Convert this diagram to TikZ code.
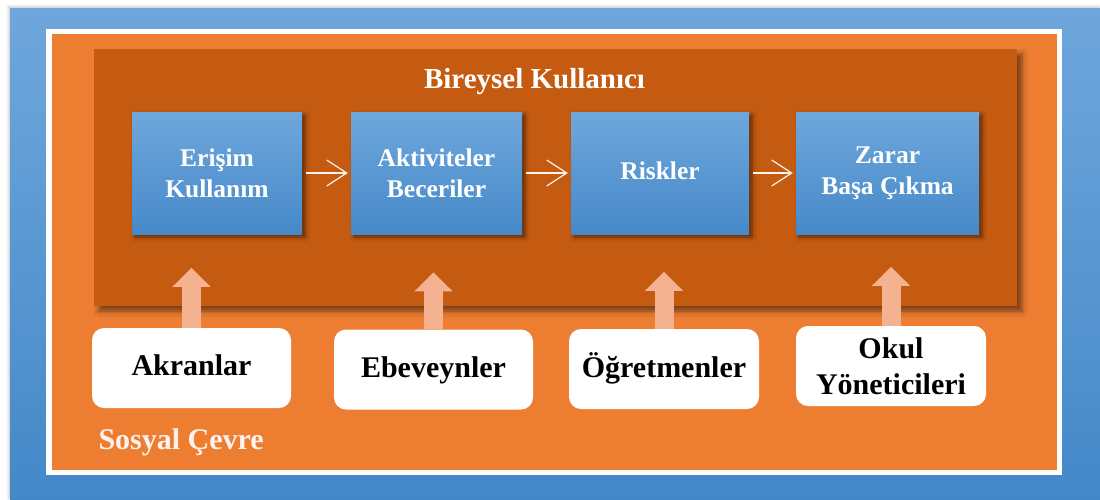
\documentclass[tikz,border=0pt]{standalone}
\usepackage{fontspec}
\setmainfont{Liberation Serif}
\usetikzlibrary{arrows.meta,shadows.blur}
\definecolor{zeminust}{HTML}{6FA7DC}
\definecolor{zeminalt}{HTML}{4488C8}
\definecolor{turuncu}{HTML}{ED7D31}
\definecolor{koyuturuncu}{HTML}{C55A11}
\definecolor{kutuust}{HTML}{6EA7DC}
\definecolor{kutualt}{HTML}{4689C9}
\definecolor{okrenk}{HTML}{F5B291}
\definecolor{yazirenk}{HTML}{FEF3EC}

\begin{document}
\begin{tikzpicture}[x=1pt,y=-1pt,
  surec/.style={minimum height=122pt, inner sep=0pt, align=center,
    top color=kutuust, bottom color=kutualt, text=white,
    font=\fontsize{25.5}{31}\selectfont\bfseries,
    blur shadow={shadow xshift=3pt, shadow yshift=-3pt, shadow blur radius=4pt, shadow opacity=55}},
  aktor/.style={fill=white, rounded corners=12pt, inner sep=0pt, align=center,
    minimum height=80pt, font=\fontsize{30}{36}\selectfont\bfseries},
  tek/.style={text height=#1, text depth=5pt},
  akis/.style={draw=yazirenk, line width=1.2pt, shorten <=4pt, shorten >=3pt,
    -{Straight Barb[length=20pt,width=26pt,line width=1.2pt]}},
  etki/.style={draw=okrenk, line width=19pt, -{Triangle[width=37pt,length=19pt]}}]

\useasboundingbox (0,0) rectangle (1100,499);

% cerceveler
\coordinate (Z1) at (10,8);
\coordinate (Z2) at (1100,499);
\coordinate (C1) at (46,29);
\coordinate (C2) at (1062,475);
\coordinate (S1) at (52,34);
\coordinate (S2) at (1057,470);
\coordinate (B1) at (94,49);
\coordinate (B2) at (1017,306);

\shade [top color=zeminust, bottom color=zeminalt,
  blur shadow={shadow xshift=-1pt, shadow yshift=1pt, shadow blur radius=3pt, shadow opacity=25}]
  (Z1) rectangle (Z2);
\fill [white] (C1) rectangle (C2);
\fill [turuncu] (S1) rectangle (S2);
\fill [koyuturuncu,
  blur shadow={shadow xshift=5pt, shadow yshift=-5pt, shadow blur radius=5pt, shadow opacity=50}]
  (B1) rectangle (B2);

\node [anchor=base, text=white, font=\fontsize{29}{34}\selectfont\bfseries] (bireysel) at (534.5,88) {Bireysel Kullanıcı};
\node [anchor=base west, text=yazirenk, font=\fontsize{30}{36}\selectfont\bfseries] (sosyal) at (95,449) {Sosyal Çevre};

% bireysel kullanici asamalari
\node [surec, minimum width=170pt] (erisim) at (217,173) {Erişim\\Kullanım};
\node [surec, minimum width=171pt] (aktivite) at (436.5,173) {Aktiviteler\\Beceriler};
\node [surec, tek=17pt, minimum width=178pt] (risk) at (660,173) {Riskler};
\node [surec, minimum width=183pt] (zarar) at (887.5,173) {Zarar\\Başa Çıkma};

\draw [akis] (erisim) -- (aktivite);
\draw [akis] (aktivite) -- (risk);
\draw [akis] (risk) -- (zarar);

% sosyal cevre
\node [aktor, tek=20pt, minimum width=199pt] (akran) at (191.5,368) {Akranlar};
\node [aktor, tek=20pt, minimum width=199pt] (ebeveyn) at (433.5,369.5) {Ebeveynler};
\node [aktor, tek=21pt, minimum width=190pt] (ogretmen) at (664,369) {Öğretmenler};
\node [aktor, minimum width=190pt] (okul) at (891,366) {Okul\\Yöneticileri};

\draw [etki] (akran.north) -- ++(0,-60);
\draw [etki] (ebeveyn.north) -- ++(0,-57);
\draw [etki] (ogretmen.north) -- ++(0,-57);
\draw [etki] (okul.north) -- ++(0,-59);
\end{tikzpicture}
\end{document}
